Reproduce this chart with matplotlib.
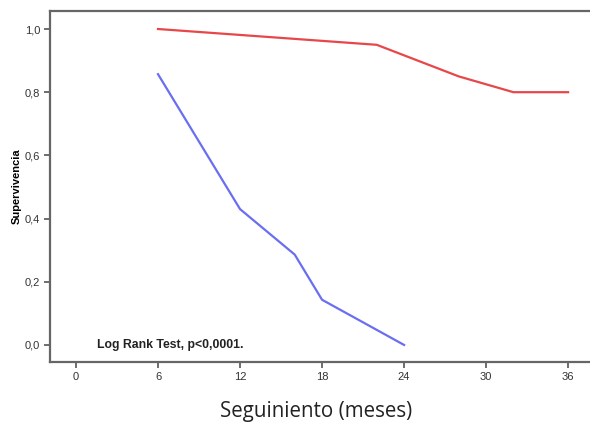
import matplotlib
matplotlib.use("Agg")
import matplotlib.pyplot as plt

# Data
months_a = [6, 22, 28, 32, 36]
surv_a = [1.0, 0.95, 0.85, 0.80, 0.80]
months_b = [6, 12, 16, 18, 24]
surv_b = [0.857, 0.43, 0.286, 0.143, 0.0]
xticks = [0, 6, 12, 18, 24, 30, 36]
yticks = [0.0, 0.2, 0.4, 0.6, 0.8, 1.0]
ytick_labels = ["0,0", "0,2", "0,4", "0,6", "0,8", "1,0"]

fig = plt.figure(figsize=(5.9, 4.22), dpi=100)
ax = fig.add_axes([50/590, 60/422, 1 - 50/590, 351/422])

ax.plot(months_a, surv_a, color="#e8474a", lw=1.6)
ax.plot(months_b, surv_b, color="#6a6ef0", lw=1.6)

ax.set_xlim(-1.9, 37.6)
ax.set_ylim(-0.054, 1.057)
ax.set_xticks(xticks)
ax.set_xticklabels([str(t) for t in xticks], fontsize=8, family="Liberation Sans", color="#333333")
ax.set_yticks(yticks)
ax.set_yticklabels(ytick_labels, fontsize=8, family="Liberation Sans", color="#333333")
ax.tick_params(axis="both", direction="out", length=4, width=1.2, color="#555555", pad=3)

for s in ["left", "bottom", "top"]:
    ax.spines[s].set_color("#666666")
    ax.spines[s].set_linewidth(1.6)
ax.spines["right"].set_visible(False)

ax.set_ylabel("Supervivencia", fontsize=8, fontweight="bold", family="Liberation Sans", labelpad=2)
ax.set_xlabel("Seguiniento (meses)", fontsize=14.8, family="Open Sans", color="#222222")
ax.xaxis.label.set_va("baseline")
ax.xaxis.set_label_coords(0.4926, -0.1567)

ax.text(6.9, 0.0, "Log Rank Test, p<0,0001.", fontsize=8.8, fontweight="bold",
        family="Liberation Sans", ha="center", va="center", color="#222222")

fig.savefig("out.png", dpi=100)
